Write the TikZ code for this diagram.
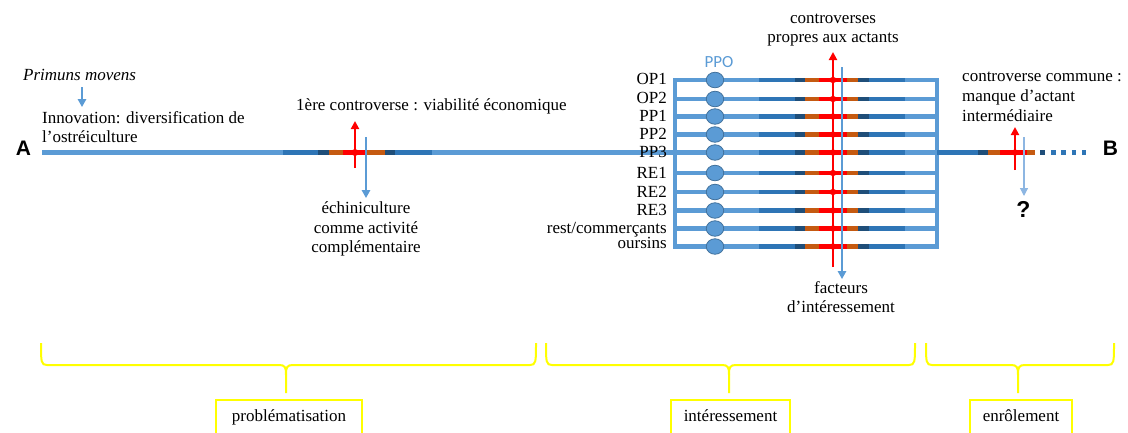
\documentclass[tikz,border=0pt]{standalone}
\usepackage{fontspec}
\setmainfont{Liberation Serif}
\newfontfamily\boldsans{Liberation Sans}
\newfontfamily\ppofont{Carlito}
\usetikzlibrary{arrows.meta,shapes.geometric}

\definecolor{lineblue}{HTML}{5B9BD5}
\definecolor{midblue}{HTML}{2E75B6}
\definecolor{navy}{HTML}{1F4E79}
\definecolor{rust}{HTML}{C55A11}
\definecolor{hotred}{HTML}{FF0000}
\definecolor{braceyellow}{HTML}{FFFF00}
\definecolor{dotedge}{HTML}{41719C}
\definecolor{paleblue}{HTML}{8DB6E2}

\tikzset{
  wire/.style={line width=4.2pt, lineblue},
  seg/.style={line width=4.2pt},
  ppo/.style={ellipse, fill=lineblue, draw=dotedge, line width=0.8pt,
    minimum width=17.5pt, minimum height=15.5pt, inner sep=0pt},
  redarrow/.style={hotred, line width=2pt, -{Triangle[length=8pt,width=8pt]}},
  bluearrow/.style={lineblue, line width=1.5pt, -{Triangle[length=8pt,width=8.5pt]}},
  txt/.style={font=\fontsize{17}{20}\selectfont, inner sep=0pt},
  lab/.style={txt, anchor=base east},
  endpoint/.style={font=\boldsans\bfseries\fontsize{21}{24}\selectfont, inner sep=0pt, anchor=base},
  brace/.style={braceyellow, line width=2pt},
  phase/.style={txt, anchor=base},
}

% a controversy section of a line: blue, navy, rust, red, rust, navy, blue
\newcommand\segline[9]{%
  \draw[seg,midblue] (#2,#1) -- (#3,#1);
  \draw[seg,navy]    (#3,#1) -- (#4,#1);
  \draw[seg,rust]    (#4,#1) -- (#5,#1);
  \draw[seg,hotred]  (#5,#1) -- (#6,#1);
  \draw[seg,rust]    (#6,#1) -- (#7,#1);
  \draw[seg,navy]    (#7,#1) -- (#8,#1);
  \draw[seg,midblue] (#8,#1) -- (#9,#1);
}

% curly brace: left end, right end, tip
\newcommand\phasebrace[3]{%
  \draw[brace] (#1,343) .. controls (#1,362) and (#1,365) .. (#1+6,365)
     -- (#3-7,365) .. controls (#3-1,365) and (#3,367) .. (#3,375) -- (#3,393);
  \draw[brace] (#2,343) .. controls (#2,362) and (#2,365) .. (#2-6,365)
     -- (#3+7,365) .. controls (#3+1,365) and (#3,367) .. (#3,375);
}

\begin{document}
\begin{tikzpicture}[x=1pt,y=-1pt]
\useasboundingbox (0,0) rectangle (1128,432);

% ---------- main line A -> B ----------
\node[endpoint] (A) at (23.5,155) {A};
\node[endpoint] (B) at (1110.5,155) {B};
\coordinate (mainL) at (42,152.5);
\coordinate (mainR) at (937,152.5);
\draw[wire] (mainL) -- (mainR);
\segline{152.5}{283}{318}{329}{343}{365}{385}{395}{432}

% ---------- actant rows ----------
\foreach \y [count=\i] in {80,99,116.5,134.5,152.5,173,192,210.5,228.5,246.5}{
  \coordinate (rowL\i) at (675,\y);
  \coordinate (rowR\i) at (937,\y);
  \draw[wire] (rowL\i) -- (rowR\i);
}
\draw[wire] (675,78) -- (675,248.6);
\draw[wire] (937,78) -- (937,248.6);
\foreach \y in {80,99,116.5,134.5,152.5,173,192,210.5,228.5,246.5}{
  \segline{\y}{759}{795}{805}{819}{847}{858}{869}{905}
}
\foreach \y [count=\i] in {80,99,116.5,134.5,152.5,173,192,210.5,228.5,246.5}{
  \node[ppo] (ppo\i) at (715,\y) {};
}
\node[txt, anchor=base, text=lineblue, font=\ppofont\fontsize{17}{20}\selectfont] (ppolab) at (719,67) {PPO};

\node[lab] (l1) at (667,84) {OP1};
\node[lab] (l2) at (667,103) {OP2};
\node[lab] (l3) at (667,121) {PP1};
\node[lab] (l4) at (667,139.5) {PP2};
\node[lab] (l5) at (667,157.5) {PP3};
\node[lab] (l6) at (667,178) {RE1};
\node[lab] (l7) at (667,197) {RE2};
\node[lab] (l8) at (667,215.5) {RE3};
\node[lab] (l9) at (667,233) {rest/commerçants};
\node[lab] (l10) at (667,248.5) {oursins};

% controversies specific to each actant
\coordinate (blkRedBot) at (833,267);
\coordinate (blkRedTop) at (833,52);
\draw[redarrow] (blkRedBot) -- (blkRedTop);
\foreach \y in {80,99,116.5,134.5,152.5,173,192,210.5,228.5,246.5}{
  \fill[hotred] (833,\y) circle (3.2);
}
\coordinate (blkBlueTop) at (842,67);
\coordinate (blkBlueBot) at (842,279);
\draw[bluearrow] (blkBlueTop) -- (blkBlueBot);

\node[txt, anchor=base] (cp1) at (833,23) {controverses};
\node[txt, anchor=base] (cp2) at (833,42.5) {propres aux actants};
\node[txt, anchor=base] (fi1) at (841,293) {facteurs};
\node[txt, anchor=base] (fi2) at (841,312.5) {d’intéressement};

% ---------- first controversy ----------
\coordinate (c1Bot) at (355,168);
\coordinate (c1Top) at (355,121);
\draw[redarrow] (c1Bot) -- (c1Top);
\fill[hotred] (355,152.5) circle (3.5);
\coordinate (c1BlueTop) at (366,137);
\coordinate (c1BlueBot) at (366,198);
\draw[bluearrow] (c1BlueTop) -- (c1BlueBot);
\node[txt, anchor=base west] (c1lab) at (296,110) {1ère controverse : viabilité économique};
\node[txt, anchor=base] (ec1) at (366,213) {échiniculture};
\node[txt, anchor=base] (ec2) at (366,233) {comme activité};
\node[txt, anchor=base] (ec3) at (366,252.5) {complémentaire};

% ---------- primum movens ----------
\node[txt, anchor=base west, font=\itshape\fontsize{17}{20}\selectfont] (pm) at (23,80) {Primuns movens};
\coordinate (pmTail) at (82,87);
\coordinate (pmTip) at (82,107);
\draw[bluearrow] (pmTail) -- (pmTip);
\node[txt, anchor=base west] (in1) at (42,123) {Innovation: diversification de};
\node[txt, anchor=base west] (in2) at (42,142) {l’ostréiculture};

% ---------- common controversy ----------
\draw[seg,midblue] (mainR) -- (978,152.5);
\draw[seg,navy]    (978,152.5) -- (988,152.5);
\draw[seg,rust]    (988,152.5) -- (1000,152.5);
\draw[seg,hotred]  (1000,152.5) -- (1027,152.5);
\draw[seg,rust]    (1027,152.5) -- (1035,152.5);
\draw[seg,navy]    (1040,152.5) -- (1045,152.5);
\draw[seg,midblue, dash pattern=on 4.5pt off 5.8pt] (1051,152.5) -- (1086,152.5);
\coordinate (c3Bot) at (1015,170);
\coordinate (c3Top) at (1015,127);
\draw[redarrow] (c3Bot) -- (c3Top);
\fill[hotred] (1015,152.5) circle (3.2);
\coordinate (c3BlueTop) at (1024,137);
\coordinate (c3BlueBot) at (1024,196);
\draw[paleblue, line width=1.2pt, -{Triangle[length=8pt,width=8pt]}] (c3BlueTop) -- (c3BlueBot);
\node[endpoint, font=\boldsans\bfseries\fontsize{23}{26}\selectfont] (q) at (1023.5,217) {?};
\node[txt, anchor=base west] (cc1) at (962,81) {controverse commune :};
\node[txt, anchor=base west] (cc2) at (962,101) {manque d’actant};
\node[txt, anchor=base west] (cc3) at (962,121) {intermédiaire};

% ---------- phases ----------
\phasebrace{41}{536}{286}
\phasebrace{546}{915}{729}
\phasebrace{926}{1114}{1018}
\node[phase] (ph1) at (289,421) {problématisation};
\node[phase] (ph2) at (730.5,421) {intéressement};
\node[phase] (ph3) at (1021,421) {enrôlement};
\draw[brace] (216,433) |- (362,400) -- (362,433);
\draw[brace] (671,433) |- (790,400) -- (790,433);
\draw[brace] (970,433) |- (1072,400) -- (1072,433);
\end{tikzpicture}
\end{document}
